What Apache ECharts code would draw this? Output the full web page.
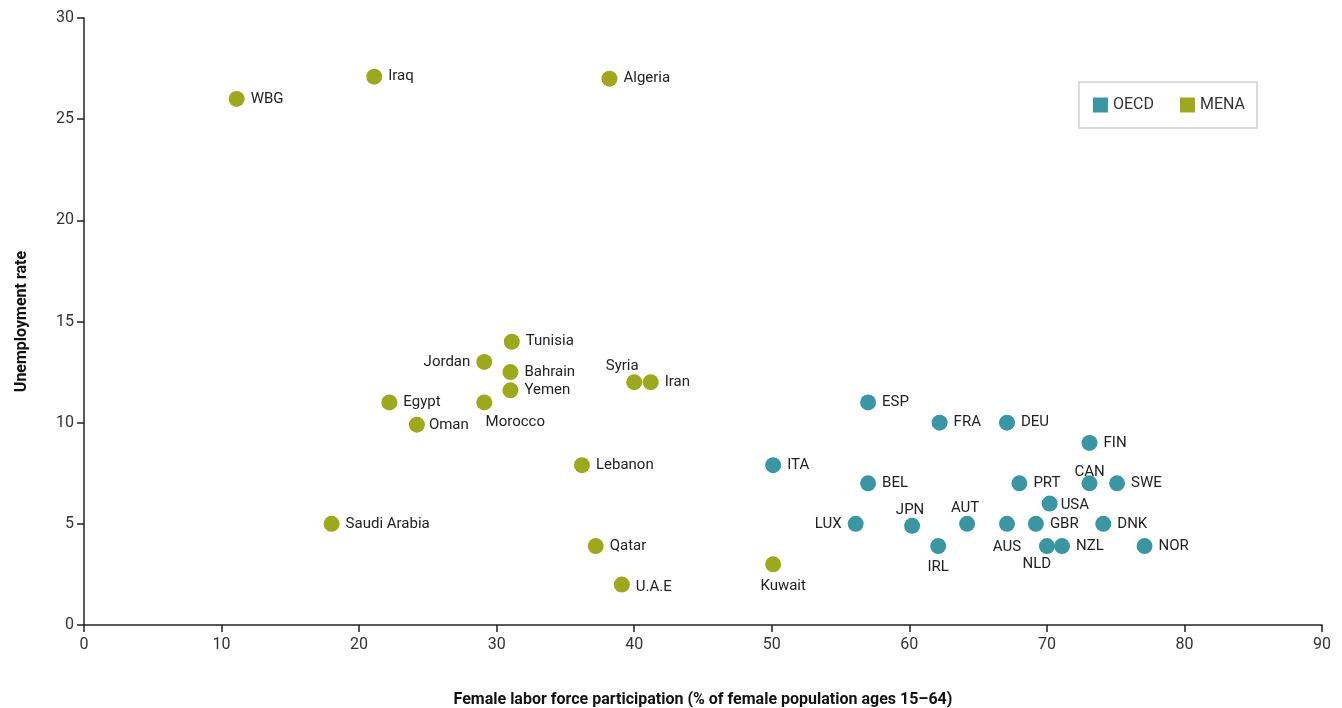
<!DOCTYPE html>
<html><head><meta charset="utf-8">
<script src="https://cdn.jsdelivr.net/npm/echarts@6/dist/echarts.min.js"></script>
<style>html,body{margin:0;padding:0;background:#fff;overflow:hidden}#c{width:1342px;height:708px}</style>
</head><body><div id="c"></div>
<script>
const menaNames = ['WBG','Iraq','Algeria','Tunisia','Jordan','Bahrain','Syria','Iran','Yemen','Egypt','Morocco','Oman','Lebanon','Saudi Arabia','Qatar','U.A.E','Kuwait'];
const menaX = [11.1,21.1,38.2,31.1,29.1,31.0,40.0,41.2,31.0,22.2,29.1,24.2,36.2,18.0,37.2,39.1,50.1];
const menaY = [26.0,27.1,27.0,14.0,13.0,12.5,12.0,12.0,11.6,11.0,11.0,9.9,7.9,5.0,3.9,2.0,3.0];
const oecdNames = ['ESP','FRA','DEU','FIN','ITA','BEL','PRT','CAN','SWE','USA','LUX','JPN','AUT','AUS','GBR','DNK','IRL','NLD','NZL','NOR'];
const oecdX = [57.0,62.2,67.1,73.1,50.1,57.0,68.0,73.1,75.1,70.2,56.1,60.2,64.2,67.1,69.2,74.1,62.1,70.0,71.1,77.1];
const oecdY = [11.0,10.0,10.0,9.0,7.9,7.0,7.0,7.0,7.0,6.0,5.0,4.9,5.0,5.0,5.0,5.0,3.9,3.9,3.9,3.9];
const xTicks = [0,10,20,30,40,50,60,70,80,90];
const yTicks = [0,5,10,15,20,25,30];

// label placement overrides (default: right)
const labelPlace = {
  'Jordan':{position:'left'},
  'Syria':{position:'top',offset:[-12,6]},
  'Morocco':{position:'bottom',offset:[31,-2]},
  'Kuwait':{position:'bottom',offset:[10,0]},
  'U.A.E':{position:'right',offset:[0,3]},
  'LUX':{position:'left'},
  'CAN':{position:'top',offset:[0,10]},
  'JPN':{position:'top',offset:[-2,6]},
  'AUT':{position:'top',offset:[-2,6]},
  'AUS':{position:'bottom',offset:[0,2]},
  'IRL':{position:'bottom',offset:[0,0]},
  'NLD':{position:'bottom',offset:[-10,-3]},
  'USA':{position:'right',offset:[-3,2]},
  'Oman':{position:'right',offset:[-2,1]}
};
function build(names, xs, ys){
  return names.map((n,i)=>{
    const p = labelPlace[n] || {position:'right'};
    return {name:n, value:[xs[i],ys[i]], label:Object.assign({}, p)};
  });
}
const FONT = '"Roboto",sans-serif';
const chart = echarts.init(document.getElementById('c'));
chart.setOption({
  animation:false,
  textStyle:{fontFamily:FONT},
  grid:{left:84,right:20,top:18,bottom:83,containLabel:false,outerBoundsMode:'none'},
  legend:{
    right:85, top:82,
    padding:[15,12,15,14],
    borderColor:'#cfcfcf', borderWidth:1.5,
    itemWidth:15,itemHeight:15,itemGap:26,
    icon:'rect',
    textStyle:{fontFamily:FONT,fontSize:16,color:'#333'},
    data:['OECD','MENA']
  },
  xAxis:{
    type:'value',min:0,max:90,interval:10,
    name:'Female labor force participation (% of female population ages 15–64)',
    nameLocation:'middle',nameGap:67,
    nameTextStyle:{fontFamily:FONT,fontWeight:'bold',fontSize:16,color:'#111'},
    axisLine:{lineStyle:{color:'#222',width:1.5}},
    axisTick:{show:true,length:7,lineStyle:{color:'#222',width:1.5}},
    axisLabel:{fontFamily:FONT,fontSize:16,color:'#333',margin:12,
      formatter:v=>xTicks.includes(v)?String(v):''},
    splitLine:{show:false}
  },
  yAxis:{
    type:'value',min:0,max:30,interval:5,
    name:'Unemployment rate',
    nameLocation:'middle',nameGap:54,nameRotate:90,
    nameTextStyle:{fontFamily:FONT,fontWeight:'bold',fontSize:16,color:'#111'},
    axisLine:{show:true,lineStyle:{color:'#222',width:1.5}},
    axisTick:{show:true,length:7,lineStyle:{color:'#222',width:1.5}},
    axisLabel:{fontFamily:FONT,fontSize:16,color:'#333',margin:10,
      formatter:v=>yTicks.includes(v)?String(v):''},
    splitLine:{show:false}
  },
  series:[
    {name:'OECD',type:'scatter',symbolSize:16,
     itemStyle:{color:'#3a96a3',opacity:1},
     label:{show:true,formatter:'{b}',fontFamily:FONT,fontSize:15,color:'#222',distance:6},
     data:build(oecdNames,oecdX,oecdY)},
    {name:'MENA',type:'scatter',symbolSize:16,
     itemStyle:{color:'#9ea81c',opacity:1},
     label:{show:true,formatter:'{b}',fontFamily:FONT,fontSize:15,color:'#222',distance:6},
     data:build(menaNames,menaX,menaY)}
  ]
});
</script></body></html>
